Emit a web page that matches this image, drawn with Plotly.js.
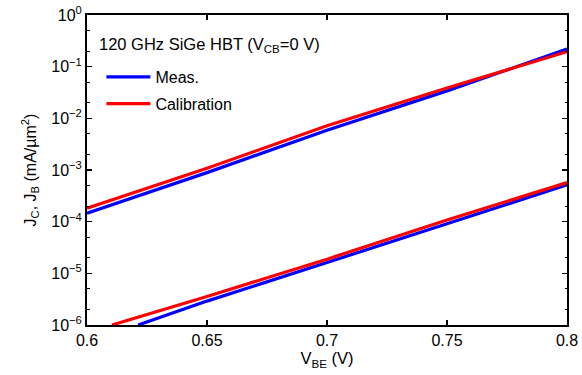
<!DOCTYPE html>
<html>
<head>
<meta charset="utf-8">
<script src="https://cdn.plot.ly/plotly-3.0.1.min.js"></script>
<style>html,body{margin:0;padding:0;background:#fff}#plot{width:582px;height:375px}</style>
</head>
<body>
<div id="plot"></div>
<script>
// V_BE (V)
var vbe = [0.6, 0.65, 0.7, 0.75, 0.8];
// Collector current density J_C (mA/um^2)
var jcMeas = [1.46e-4, 8.9e-4, 5.9e-3, 3.4e-2, 0.22];
var jcCal  = [1.82e-4, 1.08e-3, 7.2e-3, 3.85e-2, 0.195];
// Base current density J_B (mA/um^2)
var vbeJbMeas = [0.6213, 0.65, 0.7, 0.75, 0.8];
var jbMeas    = [1e-6, 2.9e-6, 1.62e-5, 9.3e-5, 5.15e-4];
var vbeJbCal  = [0.6104, 0.65, 0.7, 0.75, 0.8];
var jbCal     = [1e-6, 3.57e-6, 1.88e-5, 1.08e-4, 5.7e-4];

var yTickVals = [1e-6, 1e-5, 1e-4, 1e-3, 1e-2, 1e-1, 1];
var yTickText = ['10<sup>\u22126</sup>','10<sup>\u22125</sup>','10<sup>\u22124</sup>','10<sup>\u22123</sup>','10<sup>\u22122</sup>','10<sup>\u22121</sup>','10<sup>0</sup>'];
var xTickVals = [0.6, 0.65, 0.7, 0.75, 0.8];
var xTickText = ['0.6', '0.65', '0.7', '0.75', '0.8'];
var legendTitle = '120 GHz SiGe HBT (V<sub>CB</sub>=0 V)';

var blue = '#0000ff', red = '#ff0000';
var traces = [
  {x: vbe, y: jcMeas, mode: 'lines', name: 'Meas.', line: {color: blue, width: 3.2}, legendgroup: 'm'},
  {x: vbe, y: jcCal, mode: 'lines', name: 'Calibration', line: {color: red, width: 3.2}, legendgroup: 'c'},
  {x: vbeJbMeas, y: jbMeas, mode: 'lines', name: 'Meas.', line: {color: blue, width: 3.2}, showlegend: false},
  {x: vbeJbCal, y: jbCal, mode: 'lines', name: 'Calibration', line: {color: red, width: 3.2}, showlegend: false}
];

var layout = {
  width: 582, height: 375,
  margin: {l: 87, r: 15, t: 15, b: 50},
  paper_bgcolor: '#fff', plot_bgcolor: '#fff',
  font: {family: 'Liberation Sans, Arial, sans-serif', size: 16, color: '#000'},
  showlegend: true,
  legend: {
    x: 0.03, y: 0.855, xanchor: 'left', yanchor: 'top',
    bgcolor: 'rgba(0,0,0,0)',
    font: {size: 16},
    itemwidth: 44,
    tracegroupgap: 3
  },
  annotations: [{
    text: legendTitle, xref: 'paper', yref: 'paper', x: 0.021, y: 0.903,
    xanchor: 'left', yanchor: 'middle', showarrow: false, font: {size: 16.5}
  }],
  xaxis: {
    range: [0.6, 0.8], tickvals: xTickVals, ticktext: xTickText,
    ticks: 'inside', ticklen: 5, tickwidth: 1.5, tickcolor: '#000',
    showline: true, linecolor: '#000', linewidth: 2, mirror: 'ticks',
    showgrid: false, zeroline: false,
    tickfont: {size: 16},
    title: {text: 'V<sub>BE</sub> (V)', font: {size: 16.5}, standoff: 3}
  },
  yaxis: {
    type: 'log', range: [-6, 0], tickvals: yTickVals, ticktext: yTickText,
    ticks: 'inside', ticklen: 5, tickwidth: 1.5, tickcolor: '#000',
    showline: true, linecolor: '#000', linewidth: 2, mirror: 'ticks',
    showgrid: false, zeroline: false,
    tickfont: {size: 16},
    minor: {ticks: 'inside', ticklen: 2.5, tickcolor: '#000', tickwidth: 1, showgrid: false},
    title: {text: 'J<sub>C</sub>, J<sub>B</sub> (mA/\u00b5m<sup>2</sup>)', font: {size: 16}, standoff: 11}
  }
};

Plotly.newPlot('plot', traces, layout, {displayModeBar: false, staticPlot: true});
</script>
</body>
</html>
